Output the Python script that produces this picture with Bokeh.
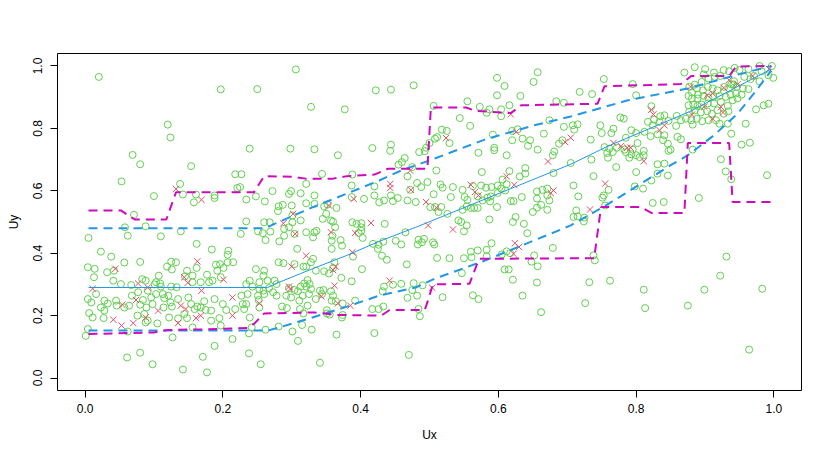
from bokeh.plotting import figure
from bokeh.models import Range1d, FixedTicker, PrintfTickFormatter
from bokeh.embed import file_html
from bokeh.resources import INLINE

# ---------------- data ----------------
tick_values = [0.0, 0.2, 0.4, 0.6, 0.8, 1.0]

green_a = [(0.053,0.63),(0.138,0.622),(0.10,0.583),(0.142,0.588),(0.161,0.588),(0.158,0.563),(0.188,0.585),(0.188,0.577),(0.221,0.609),(0.225,0.612),(0.071,0.523),(0.234,0.502),(0.058,0.483),(0.088,0.486),(0.139,0.47),(0.226,0.462),(0.005,0.449),(0.062,0.456),(0.110,0.454),(0.162,0.43),(0.184,0.412),(0.208,0.408),(0.207,0.395),(0.023,0.405),(0.038,0.389),(0.057,0.37),(0.080,0.372),(0.125,0.373),(0.132,0.371),(0.119,0.357),(0.126,0.348),(0.004,0.355),(0.014,0.35),(0.032,0.339),(0.013,0.323),(0.041,0.312),(0.052,0.301),(0.067,0.298),(0.083,0.317),(0.088,0.312),(0.107,0.328),(0.103,0.307),(0.109,0.303),(0.110,0.293),(0.125,0.293),(0.133,0.291),(0.156,0.328),(0.162,0.353),(0.177,0.331),(0.168,0.307),(0.156,0.307),(0.18,0.307),(0.185,0.312),(0.19,0.363),(0.196,0.365),(0.201,0.353),(0.207,0.371),(0.215,0.371),(0.192,0.344),(0.197,0.323),(0.042,0.344),(0.016,0.269),(0.004,0.253),(0.009,0.242),(0.028,0.248),(0.033,0.239),(0.023,0.226),(0.028,0.216),(0.006,0.208),(0.011,0.194),(0.027,0.192),(0.045,0.248),(0.046,0.232),(0.057,0.226),(0.064,0.232),(0.068,0.264),(0.077,0.275),(0.084,0.25),(0.08,0.235),(0.089,0.226),(0.096,0.258),(0.098,0.237),(0.103,0.269),(0.113,0.269),(0.115,0.256),(0.121,0.264),(0.114,0.226),(0.126,0.229),(0.124,0.242),(0.135,0.253),(0.15,0.258),(0.154,0.237),(0.159,0.221),(0.163,0.229),(0.168,0.226),(0.173,0.246),(0.175,0.218),(0.183,0.216),(0.188,0.253),(0.2,0.237),(0.205,0.218),(0.218,0.221),(0.229,0.237),(0.231,0.221),(0.236,0.269),(0.227,0.264),(0.076,0.2),(0.086,0.205),(0.091,0.184),(0.088,0.178),(0.105,0.175),(0.122,0.194),(0.135,0.191),(0.144,0.205),(0.148,0.192),(0.156,0.162),(0.183,0.184),(0.195,0.192),(0.197,0.168),(0.004,0.157),(0.001,0.135),(0.062,0.149),(0.127,0.13),(0.188,0.103),(0.214,0.125),(0.238,0.143),(0.061,0.066),(0.08,0.081),(0.098,0.044),(0.171,0.068),(0.148,0.344),(0.145,0.326),(0.101,0.3),(0.091,0.28),(0.142,0.027),(0.177,0.018)]

green_b = [(0.321,0.622),(0.272,0.599),(0.248,0.582),(0.234,0.572),(0.261,0.566),(0.299,0.599),(0.296,0.59),(0.313,0.592),(0.333,0.585),(0.321,0.56),(0.333,0.558),(0.287,0.555),(0.281,0.55),(0.3,0.553),(0.28,0.535),(0.347,0.55),(0.352,0.556),(0.365,0.545),(0.35,0.526),(0.345,0.51),(0.357,0.505),(0.36,0.501),(0.363,0.483),(0.301,0.521),(0.313,0.505),(0.301,0.499),(0.26,0.499),(0.268,0.499),(0.251,0.47),(0.258,0.464),(0.269,0.469),(0.289,0.478),(0.296,0.483),(0.304,0.462),(0.289,0.456),(0.262,0.442),(0.282,0.438),(0.321,0.467),(0.336,0.472),(0.333,0.467),(0.331,0.451),(0.359,0.456),(0.358,0.44),(0.371,0.442),(0.373,0.424),(0.358,0.414),(0.308,0.414),(0.388,0.499),(0.394,0.494),(0.401,0.496),(0.401,0.483),(0.401,0.472),(0.397,0.465),(0.403,0.449),(0.389,0.389),(0.387,0.58),(0.405,0.574),(0.387,0.617),(0.42,0.614),(0.42,0.585),(0.427,0.563),(0.434,0.569),(0.444,0.585),(0.447,0.567),(0.454,0.577),(0.435,0.494),(0.465,0.467),(0.451,0.44),(0.418,0.43),(0.426,0.427),(0.433,0.437),(0.425,0.414),(0.431,0.392),(0.438,0.379),(0.402,0.349),(0.281,0.371),(0.288,0.368),(0.304,0.365),(0.331,0.382),(0.328,0.371),(0.317,0.357),(0.321,0.357),(0.335,0.344),(0.347,0.342),(0.354,0.335),(0.36,0.352),(0.362,0.371),(0.372,0.321),(0.248,0.349),(0.26,0.344),(0.259,0.328),(0.253,0.307),(0.239,0.312),(0.234,0.301),(0.243,0.293),(0.265,0.312),(0.275,0.312),(0.278,0.301),(0.267,0.288),(0.253,0.285),(0.259,0.28),(0.26,0.269),(0.273,0.275),(0.278,0.264),(0.251,0.264),(0.252,0.25),(0.234,0.237),(0.253,0.226),(0.292,0.264),(0.299,0.258),(0.296,0.288),(0.304,0.282),(0.309,0.278),(0.313,0.293),(0.321,0.293),(0.323,0.314),(0.318,0.303),(0.326,0.301),(0.328,0.285),(0.325,0.269),(0.316,0.264),(0.311,0.248),(0.335,0.253),(0.341,0.28),(0.346,0.282),(0.344,0.269),(0.357,0.278),(0.36,0.264),(0.364,0.246),(0.374,0.239),(0.358,0.248),(0.392,0.248),(0.387,0.31),(0.286,0.229),(0.293,0.224),(0.312,0.221),(0.323,0.232),(0.317,0.207),(0.351,0.207),(0.355,0.203),(0.373,0.194),(0.374,0.202),(0.351,0.217),(0.417,0.221),(0.426,0.221),(0.433,0.229),(0.434,0.293),(0.432,0.278),(0.447,0.299),(0.475,0.282),(0.239,0.194),(0.242,0.162),(0.262,0.155),(0.281,0.165),(0.315,0.17),(0.329,0.155),(0.301,0.149),(0.309,0.119),(0.365,0.139),(0.42,0.144),(0.238,0.079),(0.47,0.074),(0.341,0.049),(0.255,0.044)]

green_c = [(0.598,0.906),(0.632,0.904),(0.555,0.887),(0.506,0.872),(0.573,0.869),(0.587,0.861),(0.604,0.861),(0.616,0.874),(0.583,0.85),(0.604,0.839),(0.684,0.887),(0.544,0.833),(0.559,0.808),(0.518,0.796),(0.525,0.792),(0.511,0.772),(0.508,0.767),(0.529,0.753),(0.5,0.753),(0.495,0.738),(0.485,0.724),(0.493,0.727),(0.464,0.705),(0.592,0.78),(0.594,0.738),(0.594,0.73),(0.571,0.722),(0.612,0.714),(0.62,0.792),(0.628,0.797),(0.62,0.762),(0.635,0.767),(0.646,0.762),(0.643,0.744),(0.657,0.732),(0.666,0.783),(0.674,0.826),(0.688,0.751),(0.681,0.726),(0.679,0.714),(0.51,0.665),(0.576,0.66),(0.616,0.663),(0.631,0.646),(0.639,0.673),(0.639,0.655),(0.68,0.657),(0.468,0.646),(0.482,0.625),(0.488,0.612),(0.497,0.628),(0.472,0.603),(0.516,0.62),(0.519,0.61),(0.534,0.612),(0.531,0.58),(0.548,0.603),(0.551,0.58),(0.555,0.571),(0.563,0.615),(0.575,0.617),(0.582,0.61),(0.59,0.612),(0.599,0.617),(0.606,0.636),(0.604,0.607),(0.612,0.621),(0.61,0.601),(0.599,0.593),(0.589,0.582),(0.584,0.578),(0.588,0.566),(0.57,0.582),(0.577,0.569),(0.554,0.55),(0.56,0.545),(0.565,0.545),(0.57,0.545),(0.548,0.539),(0.598,0.548),(0.618,0.567),(0.622,0.567),(0.634,0.58),(0.656,0.598),(0.656,0.575),(0.664,0.603),(0.671,0.607),(0.671,0.585),(0.674,0.569),(0.662,0.555),(0.65,0.532),(0.656,0.546),(0.671,0.539),(0.468,0.569),(0.48,0.564),(0.506,0.589),(0.501,0.548),(0.508,0.548),(0.517,0.548),(0.513,0.532),(0.526,0.526),(0.587,0.508),(0.625,0.516),(0.621,0.5),(0.637,0.494),(0.542,0.505),(0.546,0.5),(0.554,0.489),(0.55,0.47),(0.642,0.464),(0.459,0.428),(0.484,0.443),(0.492,0.446),(0.489,0.435),(0.505,0.435),(0.507,0.428),(0.483,0.428),(0.511,0.385),(0.529,0.384),(0.55,0.384),(0.56,0.405),(0.57,0.409),(0.561,0.387),(0.583,0.39),(0.583,0.411),(0.59,0.432),(0.605,0.396),(0.612,0.406),(0.617,0.4),(0.652,0.393),(0.679,0.417),(0.648,0.373),(0.657,0.358),(0.467,0.364),(0.547,0.336),(0.609,0.348),(0.615,0.348),(0.621,0.315),(0.656,0.306),(0.459,0.302),(0.477,0.304),(0.49,0.297),(0.482,0.264),(0.563,0.265),(0.571,0.253),(0.635,0.264),(0.519,0.259),(0.468,0.257),(0.598,0.962),(0.651,0.949),(0.657,0.98),(0.609,0.936),(0.486,0.198),(0.484,0.221),(0.662,0.211)]

green_d = [(0.753,0.958),(0.795,0.942),(0.718,0.917),(0.736,0.91),(0.8,0.906),(0.695,0.882),(0.822,0.871),(0.817,0.821),(0.826,0.828),(0.835,0.839),(0.841,0.842),(0.824,0.81),(0.834,0.821),(0.847,0.824),(0.777,0.835),(0.782,0.831),(0.748,0.81),(0.708,0.81),(0.715,0.813),(0.71,0.796),(0.695,0.805),(0.767,0.799),(0.764,0.785),(0.75,0.785),(0.793,0.794),(0.8,0.785),(0.812,0.789),(0.821,0.775),(0.831,0.781),(0.841,0.778),(0.839,0.762),(0.846,0.751),(0.85,0.732),(0.847,0.728),(0.785,0.77),(0.802,0.753),(0.734,0.764),(0.693,0.762),(0.754,0.74),(0.761,0.735),(0.758,0.721),(0.759,0.706),(0.766,0.724),(0.772,0.738),(0.783,0.732),(0.785,0.724),(0.795,0.732),(0.793,0.717),(0.79,0.706),(0.8,0.714),(0.805,0.708),(0.811,0.728),(0.811,0.714),(0.735,0.7),(0.705,0.689),(0.771,0.676),(0.8,0.66),(0.831,0.685),(0.841,0.687),(0.831,0.655),(0.846,0.649),(0.738,0.647),(0.822,0.633),(0.709,0.617),(0.798,0.614),(0.81,0.607),(0.76,0.603),(0.716,0.582),(0.753,0.585),(0.751,0.578),(0.755,0.553),(0.824,0.561),(0.84,0.564),(0.713,0.537),(0.709,0.516),(0.715,0.518),(0.725,0.514),(0.724,0.502),(0.738,0.393),(0.74,0.377),(0.732,0.307),(0.762,0.312),(0.726,0.24),(0.811,0.283),(0.813,0.224),(0.875,0.232),(0.899,0.283),(0.922,0.328),(0.931,0.389),(0.983,0.286),(0.964,0.091),(0.891,0.577)]

green_e = [(0.87,0.979),(0.885,0.996),(0.9,0.99),(0.898,0.973),(0.913,0.979),(0.927,0.987),(0.935,0.983),(0.943,0.994),(0.95,0.987),(0.963,0.99),(0.979,1.0),(0.982,0.983),(0.971,0.968),(0.992,0.97),(0.999,0.962),(0.997,1.0),(0.957,0.965),(0.966,0.958),(0.979,0.951),(0.942,0.951),(0.938,0.941),(0.922,0.968),(0.914,0.965),(0.905,0.96),(0.895,0.949),(0.885,0.94),(0.877,0.933),(0.888,0.928),(0.881,0.915),(0.876,0.904),(0.89,0.908),(0.897,0.922),(0.904,0.933),(0.911,0.928),(0.918,0.922),(0.928,0.933),(0.935,0.928),(0.941,0.941),(0.946,0.933),(0.955,0.928),(0.963,0.926),(0.953,0.908),(0.945,0.912),(0.937,0.908),(0.93,0.901),(0.921,0.904),(0.912,0.901),(0.905,0.898),(0.898,0.904),(0.889,0.896),(0.881,0.896),(0.876,0.874),(0.883,0.876),(0.889,0.872),(0.895,0.876),(0.904,0.88),(0.913,0.88),(0.923,0.885),(0.933,0.872),(0.94,0.89),(0.947,0.896),(0.877,0.853),(0.885,0.858),(0.894,0.851),(0.903,0.855),(0.91,0.847),(0.918,0.858),(0.927,0.847),(0.934,0.855),(0.872,0.831),(0.88,0.826),(0.888,0.831),(0.896,0.823),(0.905,0.826),(0.916,0.826),(0.921,0.815),(0.882,0.812),(0.859,0.84),(0.858,0.808),(0.865,0.826),(0.933,0.815),(0.938,0.783),(0.959,0.815),(0.974,0.861),(0.985,0.874),(0.992,0.879),(0.86,0.773),(0.865,0.765),(0.953,0.748),(0.965,0.754),(0.882,0.732),(0.923,0.701),(0.93,0.662),(0.99,0.65),(0.938,0.637)]

green_f = [(0.306,0.989),(0.25,0.926),(0.422,0.922),(0.444,0.924),(0.477,0.938),(0.328,0.869),(0.377,0.861),(0.239,0.735),(0.298,0.735),(0.333,0.733),(0.367,0.714),(0.417,0.737),(0.444,0.748),(0.443,0.728),(0.344,0.654),(0.388,0.652),(0.46,0.692),(0.455,0.684),(0.475,0.676),(0.02,0.965),(0.197,0.925),(0.12,0.812),(0.124,0.771),(0.069,0.715),(0.08,0.685),(0.154,0.679),(0.218,0.653),(0.227,0.653)]

red_a = [(0.132,0.606),(0.169,0.571),(0.044,0.35),(0.163,0.374),(0.144,0.323),(0.149,0.305),(0.077,0.303),(0.091,0.29),(0.011,0.286),(0.201,0.315),(0.169,0.28),(0.214,0.258),(0.074,0.25),(0.054,0.235),(0.106,0.216),(0.139,0.232),(0.146,0.221),(0.041,0.187),(0.088,0.194),(0.07,0.176),(0.161,0.192),(0.168,0.2),(0.214,0.2),(0.053,0.168),(0.135,0.176)]
red_b = [(0.302,0.526),(0.288,0.496),(0.305,0.462),(0.354,0.553),(0.357,0.467),(0.39,0.574),(0.392,0.465),(0.415,0.497),(0.443,0.622),(0.443,0.609),(0.473,0.603),(0.321,0.392),(0.388,0.403),(0.3,0.357),(0.364,0.357),(0.36,0.346),(0.296,0.293),(0.298,0.285),(0.362,0.296),(0.343,0.262),(0.367,0.239),(0.385,0.232),(0.253,0.239),(0.442,0.312)]
red_c = [(0.524,0.769),(0.618,0.845),(0.626,0.789),(0.672,0.694),(0.472,0.665),(0.56,0.619),(0.623,0.619),(0.612,0.646),(0.566,0.596),(0.571,0.585),(0.676,0.593),(0.68,0.601),(0.495,0.564),(0.51,0.546),(0.498,0.489),(0.534,0.476),(0.624,0.432),(0.63,0.42),(0.622,0.398),(0.504,0.289)]
red_d = [(0.705,0.77),(0.697,0.756),(0.767,0.753),(0.778,0.743),(0.787,0.738),(0.792,0.738),(0.811,0.695),(0.822,0.86),(0.825,0.845),(0.834,0.794),(0.841,0.81),(0.755,0.623),(0.733,0.54),(0.879,0.933),(0.903,0.906),(0.911,0.912),(0.927,0.93),(0.935,0.955),(0.947,0.941),(0.969,0.968),(0.993,0.99),(0.899,0.869),(0.923,0.869),(0.926,0.851),(0.881,0.844),(0.911,0.831)]

mid_x = [0.005, 0.265, 0.282, 0.33, 0.379, 0.427, 0.48, 0.705, 0.759, 0.877, 0.996]
mid_y = [0.29, 0.29, 0.307, 0.35, 0.392, 0.438, 0.483, 0.685, 0.743, 0.853, 0.99]

upper_x = [0.005, 0.262, 0.275, 0.33, 0.379, 0.427, 0.459, 0.507, 0.58, 0.652, 0.705, 0.788, 0.875, 0.947, 0.996]
upper_y = [0.48, 0.48, 0.494, 0.547, 0.59, 0.633, 0.665, 0.703, 0.764, 0.81, 0.838, 0.89, 0.928, 0.972, 1.0]

lower_x = [0.005, 0.265, 0.282, 0.33, 0.379, 0.427, 0.48, 0.507, 0.58, 0.652, 0.705, 0.756, 0.85, 0.875, 0.913, 0.947, 0.971, 0.996]
lower_y = [0.152, 0.152, 0.162, 0.194, 0.228, 0.264, 0.29, 0.318, 0.376, 0.441, 0.489, 0.553, 0.682, 0.714, 0.778, 0.847, 0.912, 0.985]

step_hi_x = [0.005, 0.052, 0.072, 0.118, 0.132, 0.245, 0.26, 0.30, 0.32, 0.36, 0.38, 0.42, 0.44, 0.497, 0.502, 0.553, 0.567, 0.618, 0.633, 0.744, 0.754, 0.865, 0.88, 0.935, 0.945, 0.996]
step_hi_y = [0.537, 0.537, 0.508, 0.508, 0.595, 0.595, 0.647, 0.645, 0.639, 0.639, 0.647, 0.652, 0.671, 0.671, 0.867, 0.867, 0.856, 0.849, 0.874, 0.879, 0.935, 0.942, 0.968, 0.968, 0.998, 1.0]

step_lo_x = [0.005, 0.10, 0.12, 0.17, 0.236, 0.246, 0.26, 0.333, 0.367, 0.43, 0.442, 0.493, 0.497, 0.505, 0.558, 0.572, 0.739, 0.749, 0.807, 0.822, 0.87, 0.875, 0.935, 0.94, 0.996]
step_lo_y = [0.141, 0.146, 0.154, 0.156, 0.16, 0.175, 0.207, 0.21, 0.202, 0.2, 0.218, 0.218, 0.243, 0.3, 0.302, 0.382, 0.384, 0.548, 0.548, 0.529, 0.529, 0.753, 0.753, 0.564, 0.564]

GREEN = "#61D04F"
RED = "#DF536B"
BLUE = "#2297E6"
MAGENTA = "#CD0BBC"
FONT = "Liberation Sans"

green = green_a + green_b + green_c + green_d + green_e + green_f
red = red_a + red_b + red_c + red_d

p = figure(width=830, height=457, output_backend="svg", toolbar_location=None,
           x_range=Range1d(-0.04, 1.04), y_range=Range1d(-0.04, 1.04),
           min_border_left=57, min_border_right=29, min_border_top=53, min_border_bottom=67)
p.grid.visible = False
p.outline_line_color = "black"
p.outline_line_width = 1
p.background_fill_color = "white"
p.border_fill_color = "white"

p.scatter([g[0] for g in green], [g[1] for g in green], marker="circle", size=7,
          fill_color=None, line_color=GREEN, line_width=1)
p.scatter([r[0] for r in red], [r[1] for r in red], marker="x", size=9,
          line_color=RED, line_width=1)

p.line(mid_x, mid_y, line_color=BLUE, line_width=1)
p.line(upper_x, upper_y, line_color=BLUE, line_width=2, line_dash="9 6")
p.line(lower_x, lower_y, line_color=BLUE, line_width=2, line_dash="9 6")
p.line(step_hi_x, step_hi_y, line_color=MAGENTA, line_width=2, line_dash="9 6")
p.line(step_lo_x, step_lo_y, line_color=MAGENTA, line_width=2, line_dash="9 6")

for ax in (p.xaxis[0], p.yaxis[0]):
    ax.ticker = FixedTicker(ticks=tick_values)
    ax.formatter = PrintfTickFormatter(format="%.1f")
    ax.axis_line_color = None
    ax.major_tick_line_color = "black"
    ax.major_tick_in = 0
    ax.major_tick_out = 7
    ax.minor_tick_line_color = None
    ax.major_label_text_font = FONT
    ax.major_label_text_font_size = "12px"
    ax.major_label_text_color = "black"
    ax.axis_label_text_font = FONT
    ax.axis_label_text_font_size = "12px"
    ax.axis_label_text_font_style = "normal"
    ax.axis_label_text_color = "black"

p.xaxis.axis_label = "Ux"
p.yaxis.axis_label = "Uy"
p.xaxis.major_label_standoff = 6
p.yaxis.major_label_standoff = 8
p.yaxis.major_label_orientation = "vertical"
p.xaxis.axis_label_standoff = 12
p.yaxis.axis_label_standoff = 10

open("out.html", "w").write(file_html(p, INLINE))
